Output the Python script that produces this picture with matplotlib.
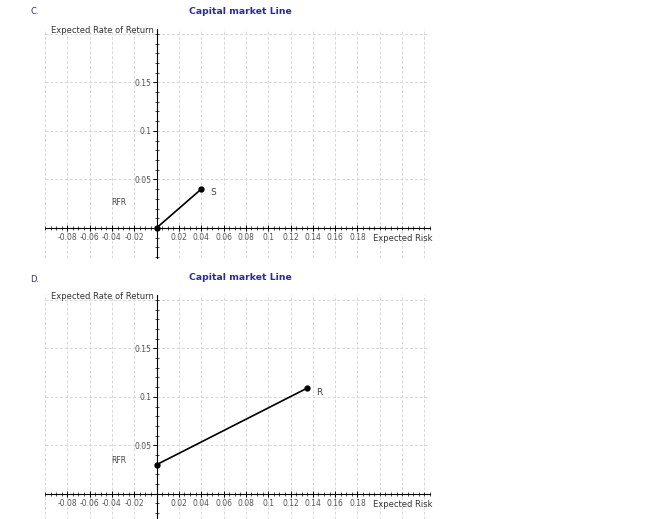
import numpy as np
import matplotlib.pyplot as plt
from matplotlib.ticker import MultipleLocator, FixedLocator

# panel C and D data
risk_c = [0.0, 0.04]
ret_c = [0.0, 0.04]
names_c = ['RFR', 'S']

risk_d = [0.0, 0.135]
ret_d = [0.03, 0.109]
names_d = ['RFR', 'R']

x_labels = [-0.08, -0.06, -0.04, -0.02, 0.02, 0.04, 0.06, 0.08, 0.1, 0.12, 0.14, 0.16, 0.18]
y_labels = [0.05, 0.1, 0.15]

title_col = '#2b2b9e'
tick_col = '#555555'

fig = plt.figure(figsize=(6.58, 5.19), dpi=100)


def fmt(v):
    s = ('%.2f' % v).rstrip('0').rstrip('.')
    return s


def panel(rect, ylo, xs, ys, names, label_pos):
    ax = fig.add_axes(rect)
    ax.set_xlim(-0.1, 0.245)
    ax.set_ylim(ylo, 0.205)
    for g in np.arange(-0.1, 0.245, 0.02):
        ax.axvline(g, color='#d8d8d8', lw=0.7, ls=(0, (3, 2)), zorder=0)
    for g in [0.05, 0.1, 0.15, 0.2]:
        ax.axhline(g, color='#d8d8d8', lw=0.7, ls=(0, (3, 2)), zorder=0)
    ax.spines['left'].set_position(('data', 0))
    ax.spines['bottom'].set_position(('data', 0))
    ax.spines['top'].set_visible(False)
    ax.spines['right'].set_visible(False)
    ax.spines['left'].set_linewidth(0.8)
    ax.spines['bottom'].set_linewidth(0.8)
    ax.xaxis.set_major_locator(FixedLocator(x_labels))
    ax.set_xticklabels([fmt(v) for v in x_labels])
    ax.xaxis.set_minor_locator(MultipleLocator(0.005))
    ax.yaxis.set_major_locator(FixedLocator(y_labels))
    ax.set_yticklabels([fmt(v) for v in y_labels])
    ax.yaxis.set_minor_locator(MultipleLocator(0.01))
    ax.tick_params(axis='x', which='major', direction='inout', length=5, width=0.7,
                   labelsize=5.5, labelcolor=tick_col, pad=1)
    ax.tick_params(axis='x', which='minor', direction='inout', length=3, width=0.5)
    ax.tick_params(axis='y', which='major', direction='out', length=3, width=0.7,
                   labelsize=5.5, labelcolor=tick_col, pad=1)
    ax.tick_params(axis='y', which='minor', direction='inout', length=2.5, width=0.5)
    ax.patch.set_alpha(0)

    ax.plot(xs, ys, color='black', lw=1.2, marker='o', ms=3.5, clip_on=False, zorder=5)
    for (tx, ty), nm in zip(label_pos, names):
        ax.text(tx, ty, nm, fontsize=5.5 if nm == 'RFR' else 6.5, color='#444444',
                ha='center', va='center')
    ax.text(-0.002, 0.203, 'Expected Rate of Return', fontsize=6, color='#333333',
            ha='right', va='center')
    ax.text(0.2205, -0.0065, 'Expected Risk', fontsize=6, color='#333333',
            ha='center', va='top')
    return ax


axc = panel([45 / 658, 261 / 519, 385 / 658, 229 / 519], -0.031,
            risk_c, ret_c, names_c, [(-0.034, 0.026), (0.051, 0.036)])
axd = panel([45 / 658, 0 / 519, 385 / 658, 224 / 519], -0.026,
            risk_d, ret_d, names_d, [(-0.034, 0.034), (0.146, 0.104)])

fig.text(240 / 658, 1 - 11 / 519, 'Capital market Line', color=title_col,
         fontsize=6.7, fontweight='bold', ha='center', va='center')
fig.text(240 / 658, 1 - 278 / 519, 'Capital market Line', color=title_col,
         fontsize=6.7, fontweight='bold', ha='center', va='center')
fig.text(35 / 658, 1 - 12 / 519, 'C.', color='#333366', fontsize=6, ha='center', va='center')
fig.text(35 / 658, 1 - 280 / 519, 'D.', color='#333366', fontsize=6, ha='center', va='center')

fig.savefig('out.png', dpi=100)
